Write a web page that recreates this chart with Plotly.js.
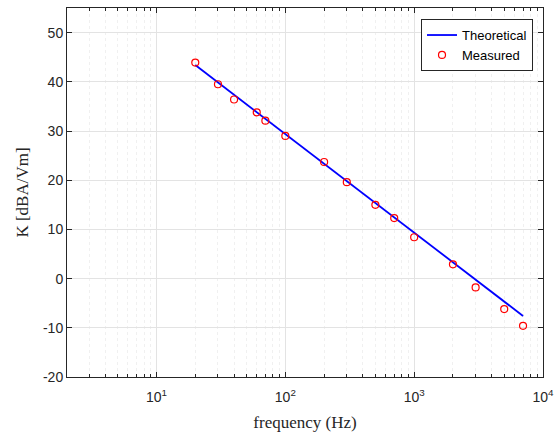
<!DOCTYPE html>
<html>
<head>
<meta charset="utf-8">
<script src="https://cdn.plot.ly/plotly-3.0.1.min.js"></script>
<style>html,body{margin:0;padding:0;background:#fff;}#chart{width:557px;height:434px;}</style>
</head>
<body>
<div id="chart"></div>
<script>
// Measured data
const measuredFreq = [20, 30, 40, 60, 70, 100, 200, 300, 500, 700, 1000, 2000, 3000, 5000, 7000];
const measuredK = [43.9, 39.5, 36.4, 33.8, 32.1, 29.0, 23.7, 19.6, 15.0, 12.3, 8.4, 2.9, -1.8, -6.2, -9.6];
// Theoretical line endpoints
const theoFreq = [20, 7000];
const theoK = [43.4, -7.6];
// Axis ticks
const xTickVals = [10, 100, 1000, 10000];
const xTickText = ['10<sup>1</sup>', '10<sup>2</sup>', '10<sup>3</sup>', '10<sup>4</sup>'];
const yTickVals = [-20, -10, 0, 10, 20, 30, 40, 50];
const yTickText = ['-20', '-10', '0', '10', '20', '30', '40', '50'];

const minorVals = [];
for (let d = 1; d <= 1000; d *= 10) for (let m = 2; m <= 9; m++) minorVals.push(m * d);

const axisColor = '#262626';
const tickFont = {family: 'Liberation Sans, Arial, sans-serif', size: 14, color: axisColor};
const titleFont = {family: 'Liberation Serif, DejaVu Serif, serif', size: 17, color: axisColor};

const traces = [
  {x: theoFreq, y: theoK, type: 'scatter', mode: 'lines', name: 'Theoretical',
   line: {color: '#0000ff', width: 1.8}},
  {x: measuredFreq, y: measuredK, type: 'scatter', mode: 'markers', name: 'Measured',
   marker: {symbol: 'circle-open', color: '#ff0000', size: 7, line: {width: 1.2, color: '#ff0000'}}}
];

const layout = {
  width: 557, height: 434,
  margin: {l: 67, r: 14, t: 8, b: 57},
  paper_bgcolor: '#ffffff', plot_bgcolor: '#ffffff',
  showlegend: true,
  legend: {x: 0.979, xanchor: 'right', y: 0.97, yanchor: 'top',
           bgcolor: '#ffffff', bordercolor: axisColor, borderwidth: 1,
           font: {family: 'Liberation Sans, Arial, sans-serif', size: 13, color: '#000'},
           tracegroupgap: 0},
  xaxis: {
    type: 'log', range: [Math.log10(2.02), 4],
    tickmode: 'array', tickvals: xTickVals, ticktext: xTickText,
    ticks: 'inside', ticklen: 5, tickcolor: axisColor, ticklabelstandoff: 7,
    showline: true, linecolor: axisColor, linewidth: 1, mirror: 'allticks',
    showgrid: true, gridcolor: '#e3e3e3', gridwidth: 1,
    zeroline: false,
    tickfont: tickFont,
    minor: {tickmode: 'array', tickvals: minorVals, ticks: 'inside', ticklen: 3, tickcolor: axisColor,
            showgrid: true, gridcolor: '#f0f0f0', griddash: 'dot', gridwidth: 1},
    title: {text: 'frequency (Hz)', font: titleFont, standoff: 12}
  },
  yaxis: {
    range: [-20, 55],
    tickmode: 'array', tickvals: yTickVals, ticktext: yTickText,
    ticks: 'inside', ticklen: 5, tickcolor: axisColor,
    showline: true, linecolor: axisColor, linewidth: 1, mirror: 'allticks',
    showgrid: true, gridcolor: '#e3e3e3', gridwidth: 1,
    zeroline: false,
    tickfont: tickFont,
    title: {text: 'K [dBA/Vm]', font: titleFont, standoff: 10}
  }
};

Plotly.newPlot('chart', traces, layout, {displayModeBar: false, staticPlot: true});
</script>
</body>
</html>
